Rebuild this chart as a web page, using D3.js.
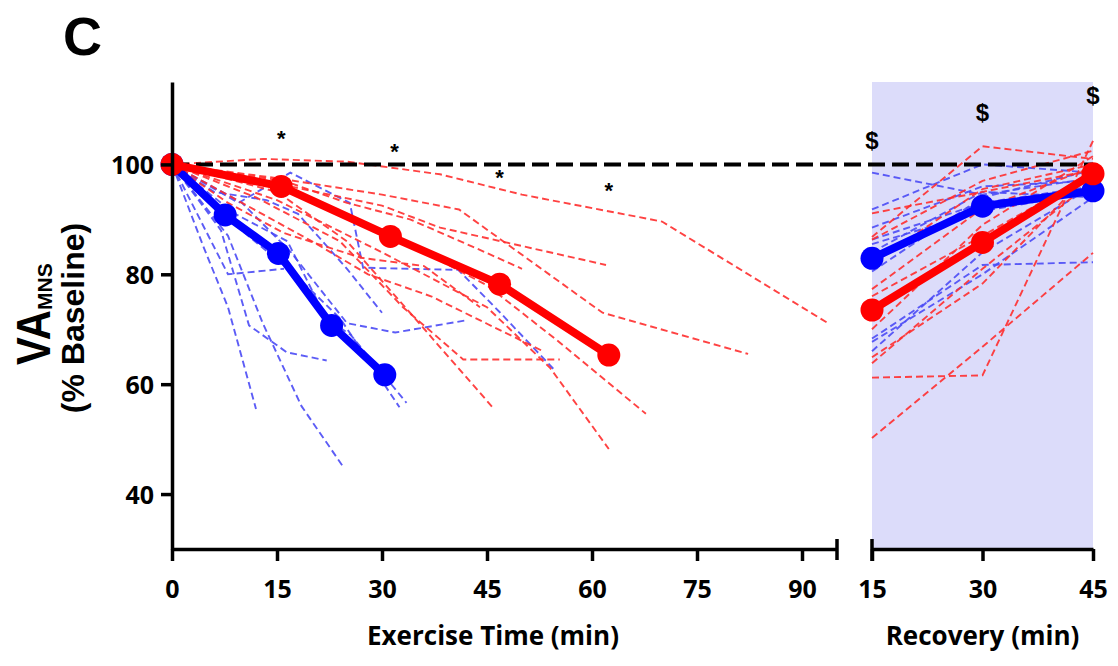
<!DOCTYPE html>
<html>
<head>
<meta charset="utf-8">
<script src="https://cdn.jsdelivr.net/npm/d3@7"></script>
<style>
  body { margin: 0; background: #fff; }
  svg { display: block; }
</style>
</head>
<body>
<div id="vis"></div>
<script>
// group means, exercise phase (time in min, VA % baseline)
const blueExTime = [0, 7.6, 15.2, 22.8, 30.4];
const blueExMean = [100, 90.8, 83.8, 70.7, 61.7];
const redExTime = [0, 15.6, 31.2, 46.8, 62.4];
const redExMean = [100, 96, 86.9, 78.2, 65.3];

// group means, recovery phase
const recTime = [15, 30, 45];
const blueRecMean = [82.9, 92.4, 95.2];
const redRecMean = [73.5, 85.8, 98.3];

// individual subjects, exercise phase: [time, value]
const blueExSubjects = [
  [[0,100],[4.5,85],[8,74],[12,55.5]],
  [[0,100],[9,89],[17.5,80],[24,72],[32.5,55.8]],
  [[0,100],[7,88],[11,70.7],[16.4,65.8],[22.1,64.3]],
  [[0,100],[8,87],[13,71],[18.5,56],[24.6,44.7]],
  [[0,100],[9,91],[16.5,86],[22,72],[25.5,69],[33.5,56.6]],
  [[0,100],[10,93],[17,84],[25,71.1],[31.9,69.4],[41.9,71.6]],
  [[0,100],[9.5,93],[16.9,98.5],[25.4,93],[27.3,81.2],[40.9,80.8],[46.9,73],[54.7,62.5]],
  [[0,100],[8,80],[16,81]],
  [[0,100],[6,95],[13.5,93.5],[18,91],[25,81],[30,73]]
];
const redExSubjects = [
  [[0,100],[13,101],[25,100.5],[38.3,98.2],[50,94.5],[70,89.6],[93.6,71.2]],
  [[0,100],[15,97.5],[30,94.5],[41,91.8],[61.5,73],[82.3,65.5]],
  [[0,100],[15,96.5],[30,92.5],[38.3,88.5],[62,81.7]],
  [[0,100],[12,94],[24,86],[33,74],[41.6,64.5],[55.4,64.5]],
  [[0,100],[15,95],[25,86],[34,73],[46,55.5]],
  [[0,100],[15,96],[30,88],[45,78],[55,68],[67.7,54.6]],
  [[0,100],[15,93.5],[30,84],[45,74],[54,63],[62.4,48.2]],
  [[0,100],[10,93],[20,86],[28,80],[37,76],[45,71],[53,66]],
  [[0,100],[8,93],[16,87.5],[27,83],[36,81.5],[44,74]],
  [[0,100],[16,97],[25,93],[34,90],[43,85],[50,81]]
];

// individual subjects, recovery phase: values at 15, 30, 45 min
const blueRecSubjects = [
  [98.5,94.5,97.5],[91.8,100,98.5],[88.5,96,97],[86.3,93,96],[85.5,91.5,95],
  [80.5,94,99],[68.3,81.7,82.2],[67.7,80,94],[66,84,96],[84,95,94]
];
const redRecSubjects = [
  [91.1,95,99],[86.8,103.3,101],[86.3,97,102.5],[81.9,95.5,100],[77.3,92,99.5],
  [64.9,78.3,99],[63.8,81,97],[61.2,61.6,104.3],[50.2,66.8,83.9],[76,87,98.5],[70,89,101.5]
];

// tick labels
const exTicks = [0, 15, 30, 45, 60, 75, 90];
const recTicks = [15, 30, 45];
const yTicks = [40, 60, 80, 100];

// significance marks
const starTime = [15.6, 31.8, 46.8, 62.4];
const starVal = [105.5, 103.1, 98.5, 96];
const dollarVal = [104.5, 109.6, 112.7];

const W = 1118, H = 666;
const blueMean = "#0000ff", redMean = "#ff0000";
const blueInd = "#4a4af5", redInd = "#ff2e2e";

const svg = d3.select("#vis").append("svg")
  .attr("width", W)
  .attr("height", H);

const xEx = d3.scaleLinear().domain([0, 95]).range([172, 837]);
const xRec = d3.scaleLinear().domain([15, 45]).range([872, 1093]);
const y = d3.scaleLinear().domain([30, 115]).range([549, 82]);

// recovery shading
svg.append("rect")
  .attr("x", xRec(15))
  .attr("y", y(115))
  .attr("width", xRec(45) - xRec(15))
  .attr("height", y(30) - y(115))
  .attr("fill", "#dcdcfa");

const lineEx = d3.line().x(d => xEx(d[0])).y(d => y(d[1]));
const lineRec = d3.line().x((d, i) => xRec(recTime[i])).y(d => y(d));

function dashed(g, data, gen, color) {
  g.selectAll(null).data(data).enter().append("path")
    .attr("d", gen)
    .attr("fill", "none")
    .attr("stroke", color)
    .attr("stroke-width", 1.9)
    .attr("stroke-dasharray", "7,4")
    .attr("opacity", 0.9);
}

const ind = svg.append("g");
dashed(ind, blueExSubjects, lineEx, blueInd);
dashed(ind, redExSubjects, lineEx, redInd);
dashed(ind, blueRecSubjects, lineRec, blueInd);
dashed(ind, redRecSubjects, lineRec, redInd);

// baseline reference
svg.append("line")
  .attr("x1", xEx(0)).attr("x2", xRec(45))
  .attr("y1", y(100)).attr("y2", y(100))
  .attr("stroke", "#000")
  .attr("stroke-width", 4)
  .attr("stroke-dasharray", "17,7");

function meanSeries(xs, vs, xScale, color) {
  const pts = xs.map((t, i) => [xScale(t), y(vs[i])]);
  svg.append("path")
    .attr("d", d3.line()(pts))
    .attr("fill", "none")
    .attr("stroke", color)
    .attr("stroke-width", 8)
    .attr("stroke-linejoin", "round");
  svg.selectAll(null).data(pts).enter().append("circle")
    .attr("cx", d => d[0]).attr("cy", d => d[1])
    .attr("r", 11.5)
    .attr("fill", color);
}
meanSeries(blueExTime, blueExMean, xEx, blueMean);
meanSeries(recTime, blueRecMean, xRec, blueMean);
meanSeries(redExTime, redExMean, xEx, redMean);
meanSeries(recTime, redRecMean, xRec, redMean);

// axes
const tickFont = "'Open Sans', sans-serif";
function styleAxis(g) {
  g.select(".domain").attr("stroke-width", 3.5).attr("stroke", "#000");
  g.selectAll(".tick line").attr("stroke-width", 3.5).attr("stroke", "#000");
  g.selectAll(".tick text")
    .attr("font-family", tickFont)
    .attr("font-weight", "bold")
    .attr("font-size", 25)
    .attr("fill", "#000");
}

const yAxis = svg.append("g")
  .attr("transform", `translate(${xEx(0)},0)`)
  .call(d3.axisLeft(y).tickValues(yTicks).tickSize(11).tickSizeOuter(0).tickPadding(7))
  .call(styleAxis);
yAxis.selectAll(".tick text").attr("dy", "0.36em");

const xAxisEx = svg.append("g")
  .attr("transform", `translate(0,${y(30)})`)
  .call(d3.axisBottom(xEx).tickValues(exTicks).tickSize(12).tickSizeOuter(0))
  .call(styleAxis);
xAxisEx.selectAll(".tick text").attr("y", 49).attr("dy", null);
// break cap
xAxisEx.append("line")
  .attr("x1", xEx(95)).attr("x2", xEx(95))
  .attr("y1", -10).attr("y2", 11)
  .attr("stroke", "#000").attr("stroke-width", 3.5);

const xAxisRec = svg.append("g")
  .attr("transform", `translate(0,${y(30)})`)
  .call(d3.axisBottom(xRec).tickValues(recTicks).tickSize(12).tickSizeOuter(0))
  .call(styleAxis);
xAxisRec.selectAll(".tick text").attr("y", 49).attr("dy", null);
xAxisRec.append("line")
  .attr("x1", xRec(15)).attr("x2", xRec(15))
  .attr("y1", -10).attr("y2", 12)
  .attr("stroke", "#000").attr("stroke-width", 3.5);

// axis titles
svg.append("text")
  .attr("x", 493).attr("y", 645)
  .attr("text-anchor", "middle")
  .attr("font-family", tickFont).attr("font-weight", "bold").attr("font-size", 26)
  .text("Exercise Time (min)");
svg.append("text")
  .attr("x", xRec(30)).attr("y", 645)
  .attr("text-anchor", "middle")
  .attr("font-family", tickFont).attr("font-weight", "bold").attr("font-size", 26)
  .text("Recovery (min)");

const arial = "'Liberation Sans', Arial, sans-serif";
svg.append("text")
  .attr("transform", "translate(50,365) rotate(-90)")
  .attr("font-family", arial).attr("font-weight", "bold").attr("font-size", 48)
  .attr("textLength", 55).attr("lengthAdjust", "spacingAndGlyphs")
  .text("VA");
svg.append("text")
  .attr("transform", "translate(52,310) rotate(-90)")
  .attr("font-family", arial).attr("font-weight", "bold").attr("font-size", 21)
  .text("MNS");
svg.append("text")
  .attr("transform", "translate(84,318) rotate(-90)")
  .attr("text-anchor", "middle")
  .attr("font-family", arial).attr("font-weight", "bold").attr("font-size", 32)
  .text("(% Baseline)");

// panel letter
svg.append("text")
  .attr("x", 63).attr("y", 55)
  .attr("font-family", arial).attr("font-weight", "bold").attr("font-size", 54)
  .text("C");

// significance marks
svg.selectAll(null).data(starTime).enter().append("text")
  .attr("x", d => xEx(d))
  .attr("y", (d, i) => y(starVal[i]) + 12)
  .attr("text-anchor", "middle")
  .attr("font-family", arial).attr("font-weight", "bold").attr("font-size", 22)
  .text("*");
svg.selectAll(null).data(recTime).enter().append("text")
  .attr("x", d => xRec(d))
  .attr("y", (d, i) => y(dollarVal[i]) + 9)
  .attr("text-anchor", "middle")
  .attr("font-family", arial).attr("font-weight", "bold").attr("font-size", 24)
  .text("$");
</script>
</body>
</html>
